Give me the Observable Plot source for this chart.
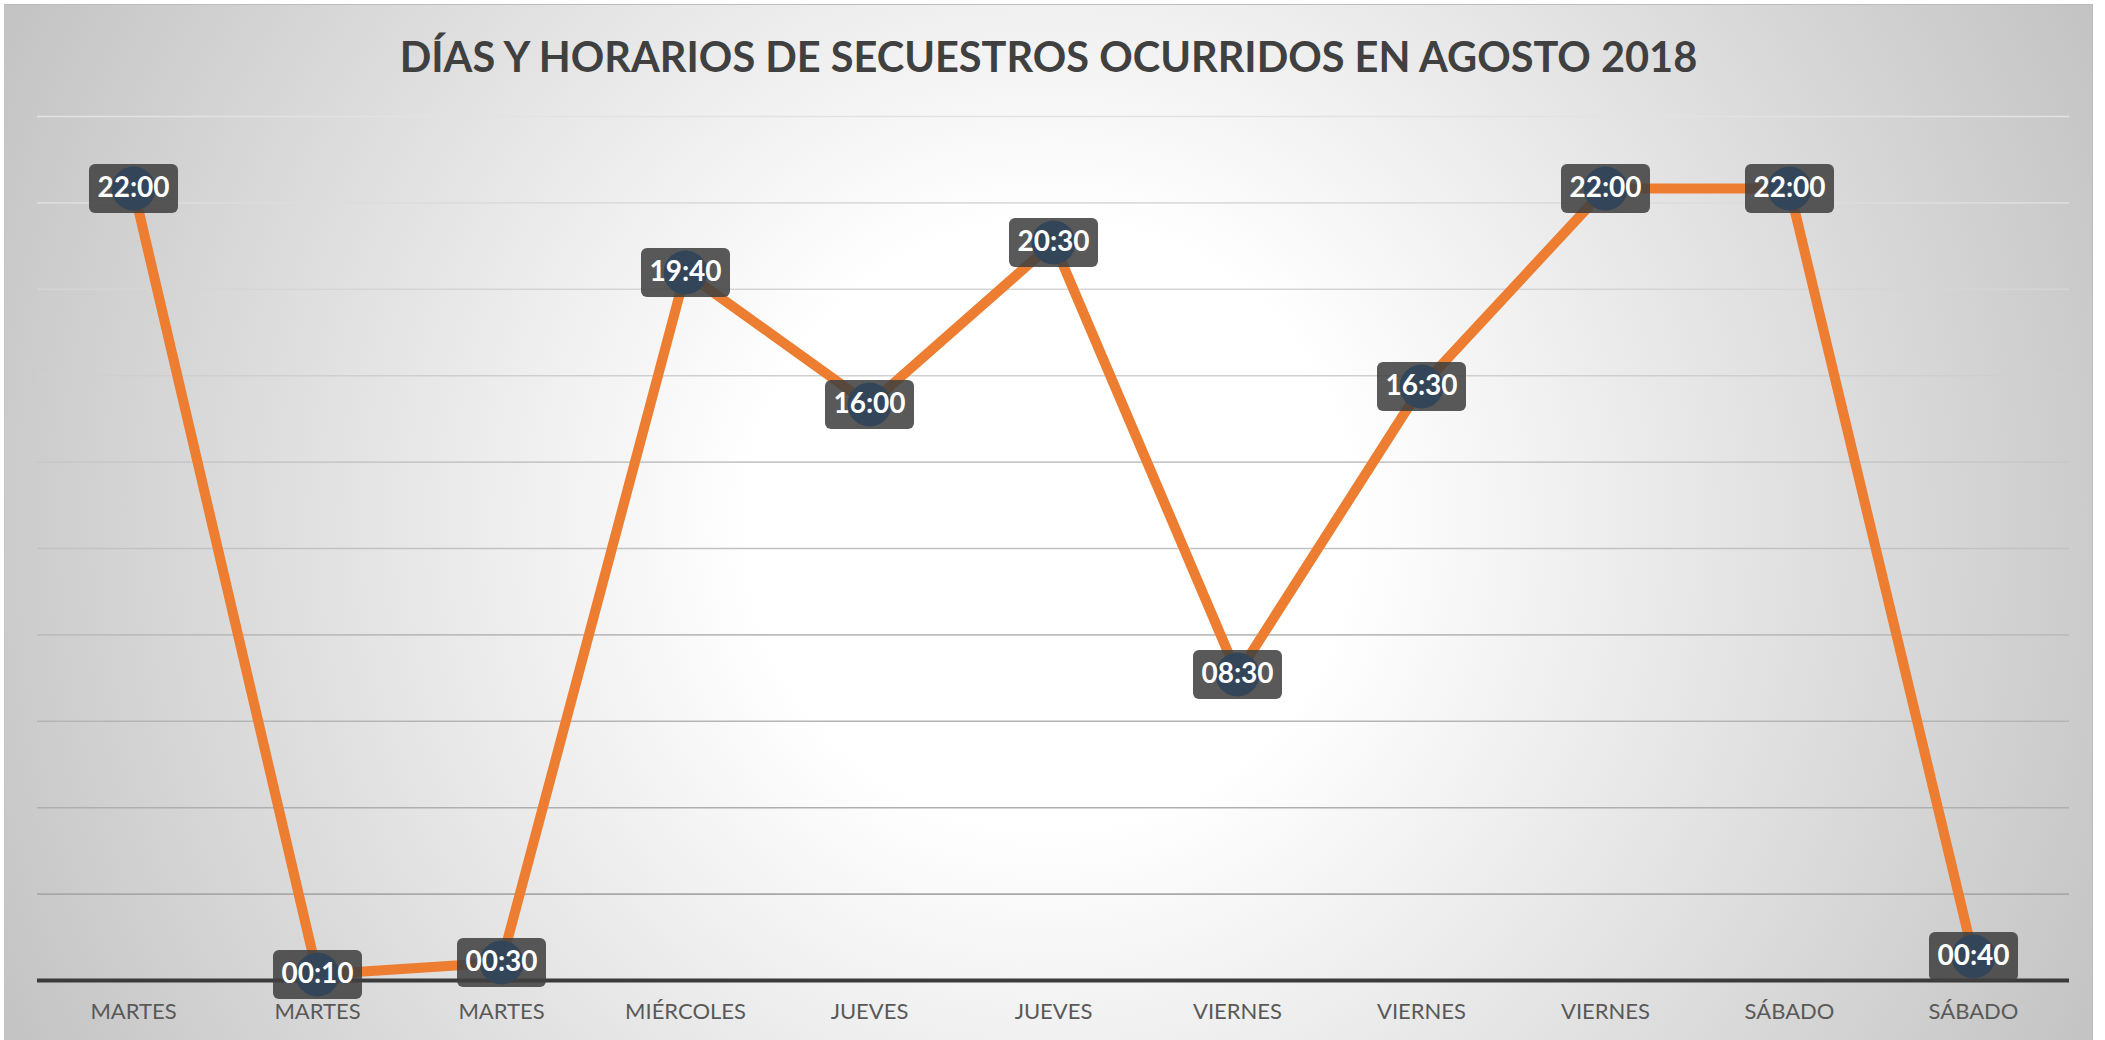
<!DOCTYPE html>
<html>
<head>
<meta charset="utf-8">
<script src="https://cdn.jsdelivr.net/npm/d3@7"></script>
<script src="https://cdn.jsdelivr.net/npm/@observablehq/plot@0.6"></script>
<style>
  html, body { margin: 0; padding: 0; background: #ffffff; }
  body { width: 2105px; height: 1040px; position: relative; overflow: hidden; }
  #frame {
    position: absolute; left: 4px; top: 4px; width: 2087px; height: 1040px;
    border-top: 1px solid #bcbcbc; border-left: 1px solid #c4c4c4; border-right: 1px solid #bcbcbc;
    background: radial-gradient(circle 1250px at 1045px 520px, #ffffff 0px, #ffffff 300px, #c2c2c2 1180px);
  }
  #title {
    position: absolute; left: 0; width: 2087px; top: 29px; text-align: center;
    font-family: Lato, "Open Sans", sans-serif; font-weight: 700; font-size: 41.5px; line-height: 44px;
    color: #404040; white-space: nowrap;
  }
  #chart { position: absolute; left: 0; top: 76px; }
</style>
</head>
<body>
<div id="frame">
  <div id="title">DÍAS Y HORARIOS DE SECUESTROS OCURRIDOS EN AGOSTO 2018</div>
  <div id="chart"></div>
</div>
<script>
// ---- data ----
const days = ["MARTES", "MARTES", "MARTES", "MIÉRCOLES", "JUEVES", "JUEVES", "VIERNES", "VIERNES", "VIERNES", "SÁBADO", "SÁBADO"];
const times = ["22:00", "00:10", "00:30", "19:40", "16:00", "20:30", "08:30", "16:30", "22:00", "22:00", "00:40"];
const gridHours = [0, 2.4, 4.8, 7.2, 9.6, 12, 14.4, 16.8, 19.2, 21.6, 24];

// table built from the arrays
const data = days.map((d, i) => {
  const [h, m] = times[i].split(":").map(Number);
  return {i, day: d, label: times[i], hours: h + m / 60};
});

const roundedBox = {
  draw(ctx) {
    const w = 44.5, h = 24.5, r = 6;
    ctx.moveTo(-w + r, -h);
    ctx.lineTo(w - r, -h);
    ctx.arcTo(w, -h, w, -h + r, r);
    ctx.lineTo(w, h - r);
    ctx.arcTo(w, h, w - r, h, r);
    ctx.lineTo(-w + r, h);
    ctx.arcTo(-w, h, -w, h - r, r);
    ctx.lineTo(-w, -h + r);
    ctx.arcTo(-w, -h, -w + r, -h, r);
    ctx.closePath();
  }
};

const gridColor = d3.interpolateRgb("#a2a2a2", "#e2e2e2");

const chart = Plot.plot({
  width: 2087,
  height: 959,
  marginLeft: 32,
  marginRight: 23,
  marginTop: 35,
  marginBottom: 60,
  style: {background: "transparent", fontFamily: "Lato, 'Open Sans', sans-serif", overflow: "visible"},
  x: {type: "point", domain: d3.range(days.length), padding: 0.5, align: 0.5, label: null},
  y: {domain: [0, 24], axis: null},
  marks: [
    Plot.ruleY(gridHours.filter(v => v > 0), {
      stroke: d => gridColor(d / 24), strokeWidth: 1.6
    }),
    Plot.ruleY([0], {stroke: "#3b3b3b", strokeWidth: 4}),
    Plot.axisX({
      tickSize: 0, tickPadding: 23, fontSize: 22, fill: "#595959",
      tickFormat: i => days[i], lineAnchor: "top", label: null
    }),
    Plot.line(data, {x: "i", y: "hours", stroke: "#ed7d31", strokeWidth: 10, strokeLinejoin: "round"}),
    Plot.dot(data, {x: "i", y: "hours", symbol: roundedBox, fill: "#404040", fillOpacity: 0.87, stroke: "none"}),
    Plot.dot(data, {x: "i", y: "hours", r: 22, fill: "#334558", stroke: "none"}),
    Plot.text(data, {x: "i", y: "hours", text: "label", fill: "#ffffff", fontSize: 28, fontWeight: 700})
  ]
});
document.getElementById("chart").appendChild(chart);
</script>
</body>
</html>
